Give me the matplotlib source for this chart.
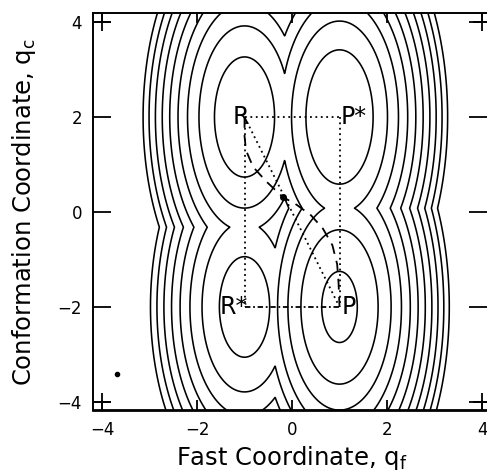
import numpy as np
import matplotlib
matplotlib.use("Agg")
import matplotlib.pyplot as plt

# ---- data ----
well_names = ["R", "P*", "R*", "P"]
well_qf = [-1.0, 1.0, -1.0, 1.0]
well_qc = [2.0, 2.0, -2.0, -2.0]
well_energy = [0.64, 0.02, 1.28, -0.14]
k_fast = 1.0
k_conf = 0.25
contour_levels = [0.0, 0.52, 1.04, 1.56, 2.08, 2.60, 3.12, 3.64, 4.16, 4.68, 5.20]

# minimum-energy (dashed) path R -> saddle -> P
path_qf = [-1.0, -1.0, -0.97, -0.82, -0.55, -0.2, 0.1, 0.4, 0.65, 0.85, 0.95, 0.98, 1.0]
path_qc = [2.0, 1.6, 1.3, 0.95, 0.65, 0.32, 0.15, -0.07, -0.35, -0.7, -1.1, -1.5, -2.0]
saddle = (-0.2, 0.32)
speck = (-3.68, -3.41)

xticks = [-4, -2, 0, 2, 4]
yticks = [-4, -2, 0, 2, 4]
corner_vals = [-4, 4]

# ---- figure ----
W, H = 487, 475
fig = plt.figure(figsize=(W / 100, H / 100), dpi=100)
ax = fig.add_axes([93 / W, 65 / H, (487 - 93) / W, (410 - 13) / H])

qf = np.linspace(-4.3, 4.3, 1201)
qc = np.linspace(-4.3, 4.3, 1201)
X, Y = np.meshgrid(qf, qc)
V = np.full_like(X, np.inf)
for x0, y0, e0 in zip(well_qf, well_qc, well_energy):
    V = np.minimum(V, k_fast * (X - x0) ** 2 + k_conf * (Y - y0) ** 2 + e0)

ax.contour(X, Y, V, levels=contour_levels, colors="black", linewidths=1.15)

# dotted square and diagonal
R = (well_qf[0], well_qc[0]); Ps = (well_qf[1], well_qc[1])
Rs = (well_qf[2], well_qc[2]); P = (well_qf[3], well_qc[3])
dot_kw = dict(color="black", lw=1.3, ls=(0, (1, 2)))
ax.plot([R[0], Ps[0]], [R[1], Ps[1]], **dot_kw)
ax.plot([Ps[0], P[0]], [Ps[1], P[1]], **dot_kw)
ax.plot([R[0], Rs[0]], [R[1], Rs[1]], **dot_kw)
ax.plot([Rs[0], P[0]], [Rs[1], P[1]], color="black", lw=1.3, ls=(0, (3, 1.5, 1, 1.5)))
ax.plot([R[0], P[0]], [R[1], P[1]], **dot_kw)

# dashed path
ax.plot(path_qf, path_qc, color="black", lw=1.3, ls=(0, (6, 4)))
ax.plot(*saddle, marker="o", ms=4, color="black")
ax.plot(*speck, marker="o", ms=3, color="black")

# labels of the wells
lab_kw = dict(fontsize=17, color="black", va="center")
ax.text(R[0] + 0.1, R[1], "R", ha="right", **lab_kw)
ax.text(Rs[0] + 0.08, Rs[1], "R*", ha="right", **lab_kw)
ax.text(Ps[0] + 0.03, Ps[1], "P*", ha="left", **lab_kw)
ax.text(P[0] + 0.05, P[1], "P", ha="left", **lab_kw)

# corner plus marks
for cx in corner_vals:
    for cy in corner_vals:
        ax.plot(cx, cy, marker="+", ms=13, mew=1.3, color="black", clip_on=False)

ax.set_xlim(-4.19, 4.105)
ax.set_ylim(-4.17, 4.19)
ax.set_xticks(xticks)
ax.set_yticks(yticks)
ax.set_xticklabels([str(v).replace("-", "\u2212") for v in xticks])
ax.set_yticklabels([str(v).replace("-", "\u2212") for v in yticks])
ax.tick_params(axis="y", direction="in", length=13, width=1.3, left=True, right=True,
               labelsize=12, pad=8)
ax.tick_params(axis="x", direction="in", length=7, width=1.3, top=True, bottom=True,
               labelsize=12, pad=8)
for s in ["left", "top", "bottom"]:
    ax.spines[s].set_linewidth(1.4)
ax.spines["bottom"].set_linewidth(2.0)
ax.spines["right"].set_visible(False)

fig.text(292 / W, 1 - 458 / H, "Fast Coordinate, q$_\\mathregular{f}$", fontsize=17.5,
         ha="center", va="center")
fig.text(24 / W, 1 - 212 / H, "Conformation Coordinate, q$_\\mathregular{c}$", fontsize=17.5,
         ha="center", va="center", rotation=90)

fig.savefig("out.png", dpi=100)
